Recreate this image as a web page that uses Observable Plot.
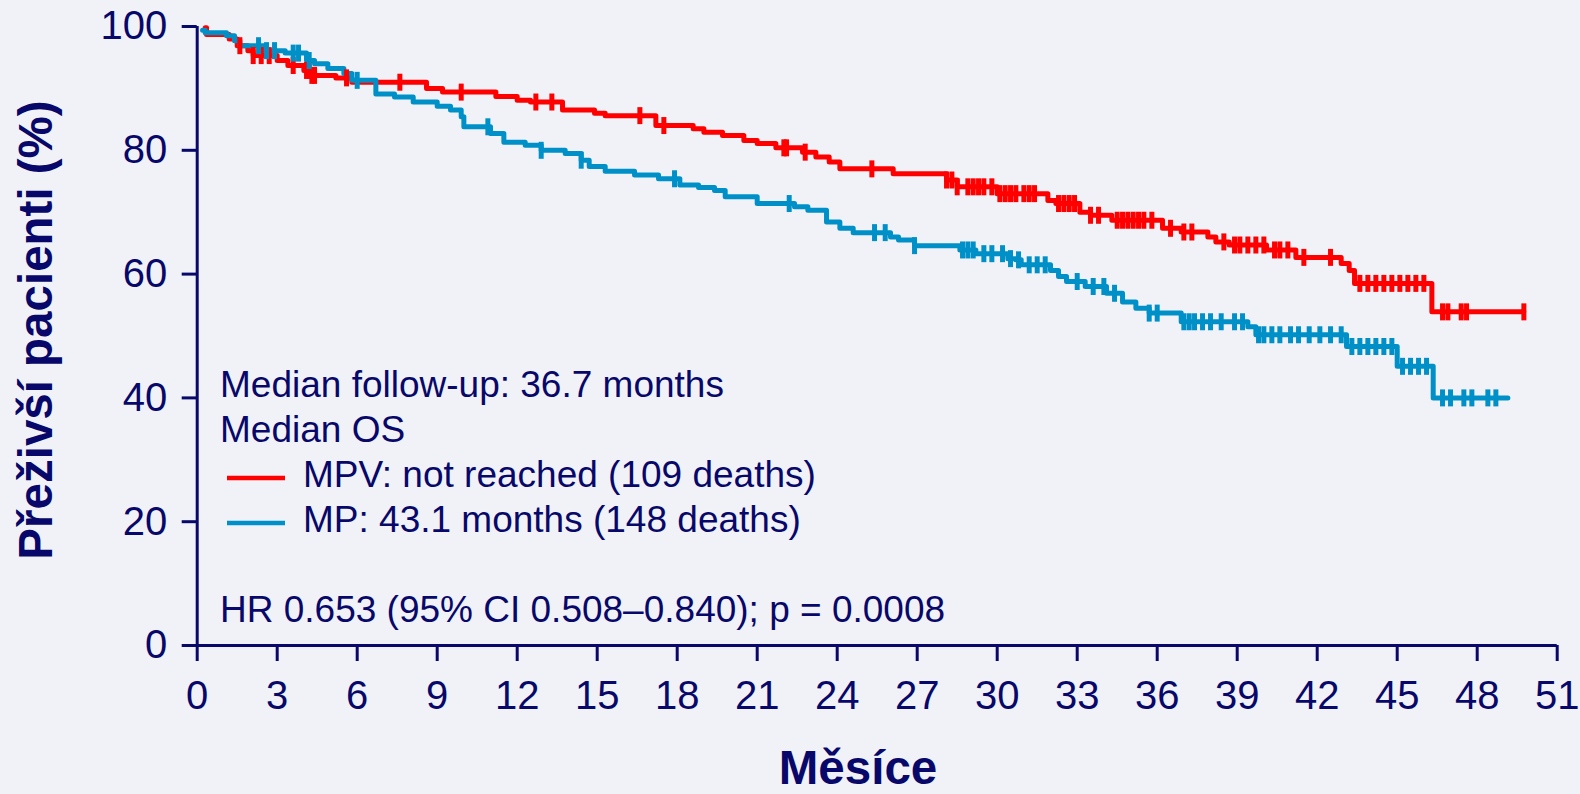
<!DOCTYPE html>
<html>
<head>
<meta charset="utf-8">
<script src="https://cdn.jsdelivr.net/npm/d3@7"></script>
<script src="https://cdn.jsdelivr.net/npm/@observablehq/plot@0.6"></script>
<style>
  html, body { margin: 0; padding: 0; background: #f1f2f8; }
  #chart { width: 1580px; height: 794px; overflow: hidden; }
</style>
</head>
<body>
<div id="chart"></div>
<script>
// ---- Data ----
const seriesNames = ["MPV", "MP"];
const seriesColors = ["#ff0000", "#0090c8"];
const legendLabels = ["MPV: not reached (109 deaths)", "MP: 43.1 months (148 deaths)"];
const noteLines = ["Median follow-up: 36.7 months", "Median OS"];
const hrText = "HR 0.653 (95% CI 0.508\u20130.840); p = 0.0008";
const xTitle = "M\u011bs\u00edce";
const yTitle = "P\u0159e\u017eiv\u0161\u00ed pacienti (%)";
const xTicks = [0, 3, 6, 9, 12, 15, 18, 21, 24, 27, 30, 33, 36, 39, 42, 45, 48, 51];
const yTicks = [0, 20, 40, 60, 80, 100];

// MPV step curve (month, % surviving from that month on)
const mpvTime = [0.3, 0.35, 1.2, 1.5, 1.9, 2.1, 3.0, 3.4, 4.0, 4.3, 5.2, 5.8, 8.6, 9.2, 11.2, 12.0, 12.5, 13.7, 14.9, 15.3,
  17.2, 18.6, 19.0, 19.7, 20.5, 21.0, 21.7, 22.7, 23.2, 23.7, 24.1, 26.1, 28.1, 28.5, 30.0, 31.9, 32.2, 33.1, 33.5, 34.3,
  36.2, 36.9, 37.9, 38.2, 38.7, 40.1, 41.2, 42.9, 43.2, 43.4, 46.3, 49.75];
const mpvSurv = [99.8, 98.7, 98.0, 96.9, 96.1, 95.3, 94.5, 93.7, 92.9, 92.1, 91.7, 91.0, 90.0, 89.4, 88.7, 88.1, 87.8, 86.5, 86.0, 85.6,
  84.0, 83.5, 82.9, 82.4, 81.6, 81.1, 80.4, 79.7, 78.9, 78.1, 77.0, 76.2, 75.2, 74.1, 73.0, 71.9, 71.4, 70.0, 69.5, 68.7,
  67.4, 66.8, 66.0, 65.2, 64.7, 63.9, 62.7, 61.7, 60.6, 58.5, 53.9, 53.9];
const mpvCensor = [1.6, 2.1, 2.4, 2.7, 3.6, 4.1, 4.2, 4.3, 4.4, 5.6, 7.6, 9.9, 12.7, 13.3, 16.6, 17.5, 22.0, 22.1, 22.8, 25.3,
  28.1, 28.3, 28.5, 28.9, 29.1, 29.3, 29.5, 29.8, 30.1, 30.3, 30.5, 30.7, 31.0, 31.2, 31.4, 32.3, 32.5, 32.7, 32.9, 33.5,
  33.8, 34.5, 34.7, 34.9, 35.1, 35.3, 35.5, 35.8, 36.5, 37.0, 37.3, 38.5, 38.9, 39.1, 39.4, 39.7, 40.0, 40.4, 40.6, 40.9,
  41.5, 42.5, 43.6, 43.9, 44.2, 44.5, 44.8, 45.1, 45.4, 45.7, 46.0, 46.7, 46.9, 47.4, 47.6, 49.75];

// MP step curve
const mpTime = [0.2, 0.3, 1.1, 1.4, 1.6, 2.5, 3.3, 4.1, 4.4, 4.9, 5.5, 5.8, 6.7, 7.4, 8.1, 9.0, 9.5, 9.9, 10.0, 11.0,
  11.5, 12.3, 12.9, 13.8, 14.4, 14.7, 15.3, 16.4, 17.3, 18.1, 18.8, 19.4, 19.8, 21.0, 22.4, 22.9, 23.6, 24.1, 24.6, 26.0,
  26.3, 26.9, 28.6, 29.2, 30.4, 30.7, 30.9, 32.0, 32.3, 32.6, 33.3, 34.1, 34.7, 35.2, 35.7, 36.9, 39.4, 39.7, 43.1, 45.0,
  46.35, 49.15];
const mpSurv = [99.4, 99.0, 98.5, 97.7, 96.9, 96.1, 95.7, 94.5, 94.0, 93.2, 92.4, 91.3, 89.1, 88.6, 87.8, 87.1, 86.5, 85.4, 83.8, 82.7,
  81.3, 80.8, 80.0, 79.5, 78.4, 77.4, 76.6, 76.0, 75.4, 74.4, 74.0, 73.5, 72.5, 71.4, 70.9, 70.3, 68.4, 67.4, 66.7, 66.0,
  65.5, 64.6, 63.9, 63.3, 62.5, 62.3, 61.5, 60.6, 59.6, 58.8, 58.0, 56.9, 55.5, 54.5, 53.7, 52.3, 51.5, 50.2, 48.3, 45.1,
  40.0, 40.0];
const mpCensor = [2.3, 2.6, 2.9, 3.6, 3.8, 4.2, 6.0, 10.9, 12.9, 14.4, 17.9, 22.2, 25.4, 25.8, 26.9, 28.7, 28.9, 29.1, 29.5, 29.8,
  30.2, 30.5, 30.8, 31.2, 31.5, 31.8, 33.0, 33.6, 34.0, 34.4, 35.7, 36.0, 37.0, 37.2, 37.4, 37.7, 38.0, 38.4, 38.9, 39.2,
  39.8, 40.0, 40.3, 40.6, 41.0, 41.3, 41.7, 42.1, 42.5, 42.9, 43.3, 43.6, 43.9, 44.2, 44.5, 44.8, 45.2, 45.5, 45.8, 46.1,
  46.7, 47.0, 47.5, 47.8, 48.4, 48.7];

// ---- Build tables ----
const curves = [[mpvTime, mpvSurv, mpvCensor], [mpTime, mpSurv, mpCensor]];
function survAt(times, surv, t) {
  let s = surv[0];
  for (let i = 0; i < times.length; i++) if (times[i] <= t) s = surv[i];
  return s;
}
const lineRows = [];
const censorRows = [];
curves.forEach(([times, surv, cens], k) => {
  times.forEach((t, i) => lineRows.push({series: seriesNames[k], t, s: surv[i]}));
  cens.forEach(t => censorRows.push({series: seriesNames[k], t, s: survAt(times, surv, t)}));
});

const navy = "#08086a";
const font = "'Liberation Sans', Arial, Helvetica, sans-serif";
const vbar = {draw(ctx, size) { const h = Math.sqrt(size / Math.PI); ctx.moveTo(0, -h); ctx.lineTo(0, h); }};

const chart = Plot.plot({
  width: 1580,
  height: 794,
  marginLeft: 196.7,
  marginRight: 23.3,
  marginTop: 26,
  marginBottom: 149,
  x: {domain: [0, 51]},
  y: {domain: [0, 100]},
  color: {domain: seriesNames, range: seriesColors},
  style: {background: "#f1f2f8", color: navy, fontFamily: font, overflow: "visible"},
  marks: [
    Plot.axisX({ticks: xTicks, tickSize: 16, tickPadding: 19, fontSize: 40, stroke: navy, strokeWidth: 3, label: null, tickFormat: d => String(d)}),
    Plot.axisY({ticks: yTicks, tickSize: 15, tickPadding: 15, fontSize: 40, stroke: navy, strokeWidth: 3, label: null, tickFormat: d => String(d)}),
    Plot.ruleX([0], {y1: 0, y2: 100, stroke: navy, strokeWidth: 3}),
    Plot.ruleY([0], {x1: 0, x2: 51, stroke: navy, strokeWidth: 3}),
    Plot.line(lineRows, {x: "t", y: "s", z: "series", stroke: "series", curve: "step-after", strokeWidth: 5, strokeLinejoin: "round", strokeLinecap: "round"}),
    Plot.dot(censorRows, {x: "t", y: "s", symbol: vbar, r: 8.5, stroke: "series", fill: "none", strokeWidth: 5})
  ]
});

document.getElementById("chart").appendChild(chart);

// ---- Titles, notes and legend ----
const svg = d3.select(chart);
const g = svg.append("g").attr("font-family", font).attr("fill", navy).attr("text-anchor", "start");

g.append("text").attr("x", 858).attr("y", 784).attr("text-anchor", "middle")
  .attr("font-size", 47.5).attr("font-weight", "bold").text(xTitle);
g.append("text").attr("transform", "translate(52,330) rotate(-90)").attr("text-anchor", "middle")
  .attr("font-size", 47.5).attr("font-weight", "bold").text(yTitle);

const noteSize = 37;
g.append("text").attr("x", 220).attr("y", 397).attr("font-size", noteSize).text(noteLines[0]);
g.append("text").attr("x", 220).attr("y", 442).attr("font-size", noteSize).text(noteLines[1]);
legendLabels.forEach((lab, i) => {
  const yb = 487 + i * 45;
  svg.append("line").attr("x1", 227).attr("x2", 285).attr("y1", yb - 9).attr("y2", yb - 9)
    .attr("stroke", seriesColors[i]).attr("stroke-width", 4.5);
  g.append("text").attr("x", 303).attr("y", yb).attr("font-size", noteSize).text(lab);
});
g.append("text").attr("x", 220).attr("y", 622).attr("font-size", noteSize).text(hrText);
</script>
</body>
</html>
